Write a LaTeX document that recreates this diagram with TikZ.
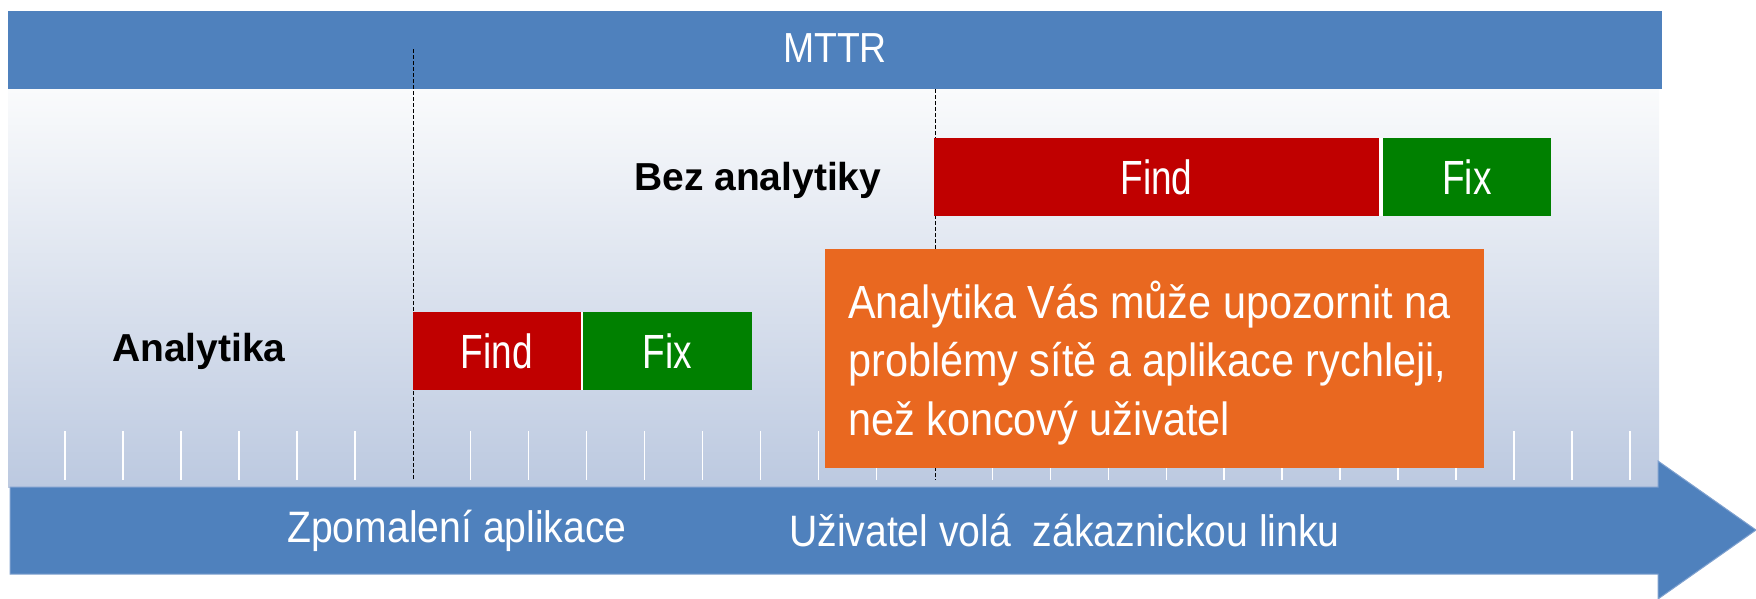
\documentclass[tikz,border=0pt]{standalone}
\usepackage{fontspec}
\setmainfont{Liberation Sans}
\newfontfamily\narrowfont{Liberation Sans}[FakeStretch=0.89]
\newfontfamily\boxfont{Liberation Sans}[FakeStretch=0.77]
\definecolor{barblue}{HTML}{4F81BD}
\definecolor{baredge}{HTML}{7FA1CF}
\definecolor{findred}{HTML}{C00000}
\definecolor{fixgreen}{HTML}{008000}
\definecolor{noteorange}{HTML}{E96820}
\definecolor{paneltop}{HTML}{FAFBFC}
\definecolor{panelbot}{HTML}{BCC9E0}
\tikzset{
  phase/.style={text=white, inner sep=0pt, font=\boxfont\fontsize{48}{58}\selectfont},
  findbox/.style={phase, fill=findred},
  fixbox/.style={phase, fill=fixgreen},
  rowlabel/.style={font=\bfseries\fontsize{39}{47}\selectfont, inner sep=0pt, anchor=base west, text=black},
  axislabel/.style={font=\narrowfont\fontsize{44}{53}\selectfont, text=white, inner sep=0pt, anchor=base west},
  tickline/.style={white, line width=1.5pt},
  markline/.style={black, line width=1pt, dash pattern=on 4pt off 2pt},
  notebox/.style={fill=noteorange, inner sep=0pt},
  notetext/.style={text=white, inner sep=0pt, align=left, font=\narrowfont\fontsize{46.5}{58.3}\selectfont},
}
\begin{document}
\begin{tikzpicture}[x=1pt,y=-1pt]
\useasboundingbox (0,0) rectangle (1756,598);
% top bar
\node[fill=barblue, inner sep=0pt, minimum width=1654pt, minimum height=78pt, text=white,
      font=\narrowfont\fontsize{42}{50}\selectfont, text height=30pt, text depth=5.4pt]
      (mttr) at (835,50) {MTTR};
% gradient panel
\shade[top color=paneltop, bottom color=panelbot] (8,89) rectangle (1659,487);
% ticks
\foreach \k in {0,...,27}{
  \ifnum\k=6\relax\else\ifnum\k=15\relax\else
    \draw[tickline] ({65+57.96*\k},431) -- ({65+57.96*\k},480);
  \fi\fi
}
% dashed markers
\coordinate (m1top) at (413,49);
\coordinate (m1bot) at (413,480);
\coordinate (m2top) at (935,89);
\coordinate (m2bot) at (935,480);
\draw[markline] (m1top) -- (m1bot);
\draw[markline] (m2top) -- (m2bot);
% row labels
\node[rowlabel] (blabel) at (634,190) {Bez analytiky};
\node[rowlabel] (alabel) at (112,361.7) {Analytika};
% phase boxes
\node[findbox, minimum width=168.3pt, minimum height=77.7pt] (afind) at (496.85,351) {Find};
\fill[white] (581,312.2) rectangle (583,389.8);
\node[fixbox, minimum width=169pt, minimum height=77.7pt] (afix) at (667.5,351) {Fix};
\node[findbox, minimum width=445pt, minimum height=78pt] (bfind) at (1156.5,177) {Find};
\fill[white] (1379,138) rectangle (1383,216);
\node[fixbox, minimum width=168pt, minimum height=78pt] (bfix) at (1467,177) {Fix};
% note box
\node[notebox, anchor=north west, minimum width=659pt, minimum height=219pt] (note) at (825,249) {};
\node[notetext, anchor=north west] (notetxt) at ([xshift=23pt]note.north west)
  {\rule{0pt}{69.3pt}Analytika Vás může upozornit na\\problémy sítě a aplikace rychleji,\\než koncový uživatel};
% timeline arrow
\filldraw[fill=barblue, draw=baredge, line width=1pt]
  (10,487) -- (1658,487) -- (1658,461) -- (1756,530) -- (1658,599) -- (1658,574) -- (10,574) -- cycle;
\node[axislabel] (slow) at (287,542.5) {Zpomalení aplikace};
\node[axislabel] (call) at (789,546) {Uživatel volá\ \ zákaznickou linku};
\end{tikzpicture}
\end{document}
